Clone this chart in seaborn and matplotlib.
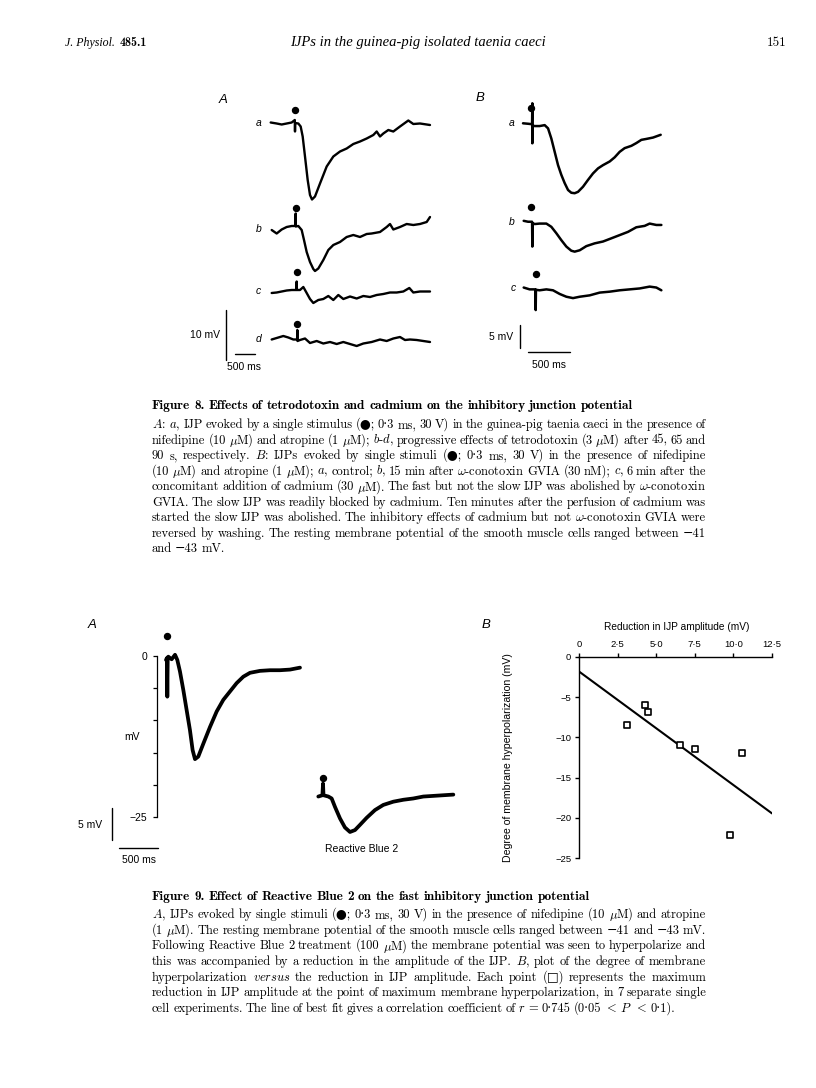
import numpy as np
import matplotlib
matplotlib.use("Agg")
import matplotlib.pyplot as plt
import seaborn as sns

# ---------------------------------------------------------------
# Dados lidos da página (tempo em ms, potencial em mV)
# ---------------------------------------------------------------

# Figura 8A: traçados a-d (mV relativo à linha de base de cada traçado)
f8a_a_t = [-8, 142, 267, 392, 517, 595, 600, 605, 683, 742, 792, 850, 917, 975, 1025, 1100, 1225, 1392,
           1558, 1725, 1892, 2058, 2225, 2392, 2558, 2642, 2725, 2808, 2933, 3058, 3225, 3433, 3558, 3725, 3975]
f8a_a_v = [0.1, -0.1, -0.3, -0.1, 0.1, 0.6, -1.7, 0.0, -0.1, -0.7, -2.7, -6.7, -11.4, -14.4, -15.3, -14.7, -12.1, -8.7,
           -6.7, -5.7, -5.1, -4.2, -3.7, -3.1, -2.4, -1.7, -2.7, -2.1, -1.4, -1.7, -0.7, 0.5, -0.2, -0.1, -0.4]
f8a_b_t = [17, 142, 267, 392, 517, 612, 617, 622, 683, 767, 825, 892, 975, 1058, 1100, 1183, 1308, 1433,
           1558, 1725, 1892, 2058, 2225, 2392, 2517, 2725, 2892, 2975, 3058, 3225, 3392, 3558, 3725, 3892, 3975]
f8a_b_v = [-0.1, -0.8, 0.0, 0.5, 0.7, 0.7, 3.2, 0.6, 0.7, -0.1, -2.1, -4.5, -6.5, -7.9, -8.3, -7.8, -6.1, -4.1,
           -3.1, -2.5, -1.5, -1.1, -1.5, -0.9, -0.8, -0.5, 0.5, 1.1, 0.0, 0.5, 1.1, 0.9, 1.1, 1.5, 2.5]
f8a_c_t = [17, 142, 267, 392, 517, 637, 642, 647, 725, 808, 892, 975, 1058, 1183, 1308, 1433, 1558, 1683,
           1808, 1975, 2142, 2308, 2475, 2642, 2808, 2975, 3142, 3308, 3458, 3558, 3725, 3975]
f8a_c_v = [-0.3, -0.2, 0.0, 0.2, 0.3, 0.3, 2.0, 0.3, 0.3, 0.9, -0.3, -1.5, -2.3, -1.7, -1.5, -0.9, -1.7, -0.7,
           -1.5, -1.0, -1.4, -0.9, -1.1, -0.7, -0.5, -0.2, -0.2, 0.0, 0.7, -0.2, 0.0, 0.0]
f8a_d_t = [17, 142, 308, 433, 558, 653, 658, 663, 725, 850, 975, 1142, 1308, 1475, 1642, 1808, 1975, 2142,
           2308, 2517, 2725, 2892, 3058, 3225, 3350, 3475, 3642, 3808, 3975]
f8a_d_v = [-0.2, 0.1, 0.5, 0.2, -0.2, -0.2, 1.7, -0.5, -0.3, 0.0, -0.9, -0.5, -1.0, -0.7, -1.1, -0.7, -1.1, -1.5,
           -1.0, -0.7, -0.2, -0.5, 0.0, 0.3, -0.3, -0.2, -0.3, -0.5, -0.7]
f8a_rotulos = ["a", "b", "c", "d"]
f8a_estimulo_t = [600, 617, 642, 658]
f8a_estimulo_v = [2.6, 4.4, 3.9, 3.0]

# Figura 8B: traçados a-c
f8b_a_t = [0, 60, 108, 111, 111, 114, 139, 198, 258, 298, 337, 377, 417, 456, 496, 536, 575, 615, 655,
           714, 774, 833, 893, 952, 1032, 1091, 1151, 1210, 1290, 1349, 1409, 1468, 1548, 1639]
f8b_a_v = [0.0, -0.1, -0.2, 4.35, -4.35, -0.5, -0.6, -0.6, -0.4, -1.1, -3.3, -6.2, -9.1, -11.2, -13.0, -14.5, -15.1,
           -15.2, -14.9, -13.8, -12.3, -10.9, -9.8, -9.1, -8.3, -7.4, -6.2, -5.4, -4.9, -4.3, -3.6, -3.4, -3.1, -2.5]
f8b_b_t = [8, 60, 108, 111, 114, 139, 198, 278, 337, 397, 456, 516, 575, 615, 675, 754, 853, 952, 1052,
           1151, 1250, 1349, 1448, 1508, 1587, 1647]
f8b_b_v = [0.2, 0.0, 0.0, -5.4, -0.3, -0.5, -0.4, -0.4, -1.1, -2.5, -4.0, -5.4, -6.3, -6.5, -6.2, -5.3, -4.7, -4.3,
           -3.6, -2.9, -2.2, -1.2, -0.9, -0.4, -0.7, -0.7]
f8b_c_t = [8, 79, 148, 151, 154, 198, 278, 357, 437, 516, 595, 675, 794, 913, 1032, 1151, 1270, 1389, 1508, 1587, 1647]
f8b_c_v = [0.2, -0.2, -0.2, -4.7, -0.3, -0.4, -0.2, -0.4, -1.2, -1.8, -2.1, -1.8, -1.5, -0.9, -0.7, -0.4, -0.2,
           0.0, 0.4, 0.2, -0.4]
f8b_rotulos = ["a", "b", "c"]
f8b_estimulo_t = [91, 91, 159]
f8b_estimulo_v = [3.3, 3.3, 3.1]

# Figura 9A: controle e após Reactive Blue 2 (mV absoluto no eixo)
f9a_ctrl_t = [0, 12, 17, 22, 30, 72, 115, 144, 178, 221, 263, 305, 339, 369, 411, 475, 560, 645, 729, 814,
              899, 984, 1069, 1196, 1323, 1450, 1578, 1705]
f9a_ctrl_v = [-0.6, -0.3, -6.3, -0.2, -0.1, -0.5, 0.2, -0.6, -2.4, -5.3, -8.4, -11.5, -14.6, -16.0, -15.6, -13.6,
              -11.0, -8.6, -6.8, -5.5, -4.2, -3.2, -2.6, -2.3, -2.2, -2.2, -2.1, -1.8]
f9a_rb2_t = [1938, 1990, 1998, 2004, 2066, 2108, 2150, 2214, 2277, 2341, 2405, 2468, 2553, 2659, 2765, 2892,
             3020, 3147, 3274, 3401, 3528, 3656]
f9a_rb2_v = [-21.8, -21.6, -19.8, -21.6, -21.8, -22.1, -23.4, -25.2, -26.6, -27.3, -27.0, -26.2, -25.1, -23.9,
             -23.1, -22.6, -22.3, -22.1, -21.8, -21.7, -21.6, -21.5]
f9a_estimulo_t = [17, 1998]
f9a_estimulo_v = [3.1, -18.9]
f9a_yticks = [0, -5, -10, -15, -20, -25]
f9a_ylabels = ["0", "", "", "", "", "\u221225"]

# Figura 9B: hiperpolarização x redução do IJP
reducao_ijp = [3.1, 4.25, 4.5, 6.55, 7.5, 10.55, 9.75]
hiperpolarizacao = [-8.5, -5.95, -6.9, -10.9, -11.5, -11.9, -22.2]
f9b_xticks = [0, 2.5, 5.0, 7.5, 10.0, 12.5]
f9b_xlabels = ["0", "2\u00b75", "5\u00b70", "7\u00b75", "10\u00b70", "12\u00b75"]
f9b_yticks = [0, -5, -10, -15, -20, -25]
f9b_ylabels = ["0", "\u22125", "\u221210", "\u221215", "\u221220", "\u221225"]

# Textos da página
cabecalho_esq = "J. Physiol."
cabecalho_vol = "485.1"
cabecalho_titulo = "IJPs in the guinea-pig isolated taenia caeci"
cabecalho_pagina = "151"

legenda8_titulo = "Figure 8. Effects of tetrodotoxin and cadmium on the inhibitory junction potential"
legenda8 = [
    r"$\mathit{A}$: $\mathit{a}$, IJP evoked by a single stimulus (●; 0·3 ms, 30 V) in the guinea-pig taenia caeci in the presence of",
    r"nifedipine (10 $\mu$M) and atropine (1 $\mu$M); $\mathit{b}$-$\mathit{d}$, progressive effects of tetrodotoxin (3 $\mu$M) after 45, 65 and",
    r"90 s, respectively. $\mathit{B}$: IJPs evoked by single stimuli (●; 0·3 ms, 30 V) in the presence of nifedipine",
    r"(10 $\mu$M) and atropine (1 $\mu$M); $\mathit{a}$, control; $\mathit{b}$, 15 min after $\omega$-conotoxin GVIA (30 nM); $\mathit{c}$, 6 min after the",
    r"concomitant addition of cadmium (30 $\mu$M). The fast but not the slow IJP was abolished by $\omega$-conotoxin",
    r"GVIA. The slow IJP was readily blocked by cadmium. Ten minutes after the perfusion of cadmium was",
    r"started the slow IJP was abolished. The inhibitory effects of cadmium but not $\omega$-conotoxin GVIA were",
    r"reversed by washing. The resting membrane potential of the smooth muscle cells ranged between −41",
    r"and −43 mV.",
]
legenda9_titulo = "Figure 9. Effect of Reactive Blue 2 on the fast inhibitory junction potential"
legenda9 = [
    r"$\mathit{A}$, IJPs evoked by single stimuli (●; 0·3 ms, 30 V) in the presence of nifedipine (10 $\mu$M) and atropine",
    r"(1 $\mu$M). The resting membrane potential of the smooth muscle cells ranged between −41 and −43 mV.",
    r"Following Reactive Blue 2 treatment (100 $\mu$M) the membrane potential was seen to hyperpolarize and",
    r"this was accompanied by a reduction in the amplitude of the IJP. $\mathit{B}$, plot of the degree of membrane",
    r"hyperpolarization $\mathit{versus}$ the reduction in IJP amplitude. Each point (□) represents the maximum",
    r"reduction in IJP amplitude at the point of maximum membrane hyperpolarization, in 7 separate single",
    r"cell experiments. The line of best fit gives a correlation coefficient of $\mathit{r}$ = 0·745 (0·05 $<$ $\mathit{P}$ $<$ 0·1).",
]

# ---------------------------------------------------------------
# Estilo geral
# ---------------------------------------------------------------
sns.set_style("ticks", {"axes.edgecolor": "black", "xtick.color": "black", "ytick.color": "black",
                        "text.color": "black", "axes.labelcolor": "black"})
plt.rcParams["font.family"] = ["Liberation Sans", "DejaVu Sans"]
plt.rcParams["mathtext.fontset"] = "cm"

SERIF = ["cmr10", "DejaVu Serif", "DejaVu Sans"]
SERIF_B = ["cmb10", "DejaVu Serif"]
TAM_LEGENDA = 9.0
TAM_TITULO = 9.6

W, H = 816, 1088
fig = plt.figure(figsize=(W / 100, H / 100), dpi=100)
renderer = fig.canvas.get_renderer()


def eixo_px(x0, y0, x1, y1):
    # cria um eixo a partir de uma caixa em pixels (origem no canto superior esquerdo)
    return fig.add_axes([x0 / W, 1 - y1 / H, (x1 - x0) / W, (y1 - y0) / H])


def linha_texto(texto, y, x0=152, x1=706, size=TAM_LEGENDA, family=SERIF, justificar=True, gap_livre=3.0):
    # escreve uma linha de legenda palavra a palavra (texto justificado)
    palavras = texto.split(" ")
    objs = [fig.text(0, 1 - y / H, p, fontsize=size, family=family, va="baseline") for p in palavras]
    larg = [o.get_window_extent(renderer).width for o in objs]
    gap_min = 2.6
    livre = x1 - x0 - sum(larg)
    if justificar and livre < gap_min * (len(palavras) - 1):
        # linha longa demais: reduz um pouco a fonte
        fator = (x1 - x0 - gap_min * (len(palavras) - 1)) / sum(larg)
        for o in objs:
            o.set_fontsize(size * fator)
        larg = [o.get_window_extent(renderer).width for o in objs]
        livre = x1 - x0 - sum(larg)
    if justificar and len(palavras) > 1:
        gap = livre / (len(palavras) - 1)
    else:
        gap = gap_livre
    x = x0
    for o, w in zip(objs, larg):
        o.set_x(x / W)
        x += w + gap


def tracado(ax, t, v, desloc, lw):
    sns.lineplot(x=t, y=np.array(v) + desloc, ax=ax, color="black", linewidth=lw,
                 estimator=None, sort=False, legend=False)


# ---------------------------------------------------------------
# Cabeçalho da página
# ---------------------------------------------------------------
t1 = fig.text(65 / W, 1 - 46 / H, cabecalho_esq, fontsize=8.6, family="Liberation Serif",
              style="italic", va="baseline")
w1 = t1.get_window_extent(renderer).width
fig.text((65 + w1 + 5) / W, 1 - 46 / H, cabecalho_vol, fontsize=8.6, family=SERIF_B, va="baseline")
fig.text(418 / W, 1 - 46 / H, cabecalho_titulo, fontsize=10.5, family="Liberation Serif",
         style="italic", ha="center", va="baseline")
fig.text(787 / W, 1 - 46 / H, cabecalho_pagina, fontsize=9.5, family=SERIF, ha="right", va="baseline")

# ---------------------------------------------------------------
# Figura 8A
# ---------------------------------------------------------------
ax = eixo_px(180, 95, 440, 380)
desloc8a = [0, -21.3, -33.7, -43.1]
series8a = [(f8a_a_t, f8a_a_v), (f8a_b_t, f8a_b_v), (f8a_c_t, f8a_c_v), (f8a_d_t, f8a_d_v)]
for (t, v), d, rot, et, ev in zip(series8a, desloc8a, f8a_rotulos, f8a_estimulo_t, f8a_estimulo_v):
    tracado(ax, t, v, d, 1.7)
    ax.plot(et, ev + d, "o", color="black", ms=4.3)
    ax.text(-317, d, rot, fontsize=7.5, style="italic", ha="center", va="center")
# barras de escala 10 mV / 500 ms
ax.plot([-1133, -1133], [-37.4, -37.4 - 10], color="black", lw=1.0)
ax.plot([-900, -900 + 500], [-46.2, -46.2], color="black", lw=1.0)
ax.text(-1275, -42.4, "10 mV", fontsize=7.5, ha="right", va="center")
ax.text(-675, -48.9, "500 ms", fontsize=7.5, ha="center", va="center")
ax.set_xlim(-2275, 4225)
ax.set_ylim(-51.4, 5.6)
ax.axis("off")

# ---------------------------------------------------------------
# Figura 8B
# ---------------------------------------------------------------
ax = eixo_px(490, 95, 690, 380)
desloc8b = [0, -21.4, -35.9]
series8b = [(f8b_a_t, f8b_a_v), (f8b_b_t, f8b_b_v), (f8b_c_t, f8b_c_v)]
rot_t8b = [-131, -131, -119]
for (t, v), d, rot, et, ev, rt in zip(series8b, desloc8b, f8b_rotulos, f8b_estimulo_t, f8b_estimulo_v, rot_t8b):
    tracado(ax, t, v, d, 1.8)
    ax.plot(et, ev + d, "o", color="black", ms=4.3)
    ax.text(rt, d, rot, fontsize=7.5, style="italic", ha="center", va="center")
ax.plot([-32, -32], [-43.8, -43.8 - 5], color="black", lw=1.0)
ax.plot([60, 60 + 500], [-49.8, -49.8], color="black", lw=1.0)
ax.text(-119, -46.4, "5 mV", fontsize=7.5, ha="right", va="center")
ax.text(306, -52.6, "500 ms", fontsize=7.5, ha="center", va="center")
ax.set_xlim(-393, 1988)
ax.set_ylim(-55.8, 6.15)
ax.axis("off")

fig.text(223 / W, 1 - 100 / H, "A", fontsize=9.5, style="italic", ha="center", va="center")
fig.text(480 / W, 1 - 98 / H, "B", fontsize=9.5, style="italic", ha="center", va="center")

# Legenda da figura 8
linha_texto(legenda8_titulo, 409, size=TAM_TITULO, family=SERIF_B, justificar=False, gap_livre=4.0)
for i, linha in enumerate(legenda8):
    linha_texto(linha, 428 + i * 15.55, justificar=(i < len(legenda8) - 1))

# ---------------------------------------------------------------
# Figura 9A
# ---------------------------------------------------------------
ax = eixo_px(80, 615, 470, 870)
tracado(ax, f9a_ctrl_t, f9a_ctrl_v, 0, 2.7)
tracado(ax, f9a_rb2_t, f9a_rb2_v, 0, 2.7)
ax.plot(f9a_estimulo_t, f9a_estimulo_v, "o", color="black", ms=4.3)
ax.plot([-687, -687], [-23.6, -23.6 - 5], color="black", lw=1.0, clip_on=False)
ax.plot([-598, -598 + 500], [-29.8, -29.8], color="black", lw=1.0, clip_on=False)
ax.text(-818, -26.2, "5 mV", fontsize=7.5, ha="right", va="center")
ax.text(-343, -31.6, "500 ms", fontsize=7.5, ha="center", va="center")
ax.text(-433, -12.6, "mV", fontsize=7.5, ha="center", va="center")
ax.text(2490, -29.9, "Reactive Blue 2", fontsize=7.5, ha="center", va="center")
ax.set_xlim(-1094, 3868)
ax.set_ylim(-33.2, 6.37)
for s in ["top", "right", "bottom"]:
    ax.spines[s].set_visible(False)
ax.spines["left"].set_position(("data", -114.5))
ax.spines["left"].set_bounds(-25, 0)
ax.spines["left"].set_linewidth(0.9)
ax.set_xticks([])
ax.set_yticks(f9a_yticks)
ax.set_yticklabels(f9a_ylabels)
ax.tick_params(axis="y", direction="out", length=3, width=0.9, labelsize=7.5, pad=4)

fig.text(92 / W, 1 - 625 / H, "A", fontsize=9.5, style="italic", ha="center", va="center")

# ---------------------------------------------------------------
# Figura 9B
# ---------------------------------------------------------------
ax = eixo_px(579, 657, 772, 858)
ax.set_xlim(0, 12.5)
ax.set_ylim(-25, 0)
sns.regplot(x=reducao_ijp, y=hiperpolarizacao, ax=ax, scatter=False, ci=None, truncate=False,
            color="black", line_kws={"lw": 1.5})
sns.scatterplot(x=reducao_ijp, y=hiperpolarizacao, ax=ax, marker="s", s=24, color="white",
                edgecolor="black", linewidth=1.2, zorder=3, legend=False)
ax.set_xlim(0, 12.5)
ax.set_ylim(-25, 0)
for s in ["right", "bottom"]:
    ax.spines[s].set_visible(False)
for s in ["top", "left"]:
    ax.spines[s].set_linewidth(1.0)
ax.xaxis.tick_top()
ax.xaxis.set_label_position("top")
ax.set_xticks(f9b_xticks)
ax.set_xticklabels(f9b_xlabels)
ax.set_yticks(f9b_yticks)
ax.set_yticklabels(f9b_ylabels)
ax.tick_params(direction="out", length=3, width=1.0, labelsize=6.8, pad=2.5)
ax.set_xlabel("Reduction in IJP amplitude (mV)", fontsize=7.3)
ax.xaxis.set_label_coords(0.508, 1.149)
ax.xaxis.label.set_va("center")
ax.set_ylabel("Degree of membrane hyperpolarization (mV)", fontsize=7.6)
ax.yaxis.set_label_coords(-0.368, 0.5)
ax.yaxis.label.set_va("center")

fig.text(486 / W, 1 - 625 / H, "B", fontsize=9.5, style="italic", ha="center", va="center")

# Legenda da figura 9
linha_texto(legenda9_titulo, 900, size=TAM_TITULO, family=SERIF_B, justificar=False, gap_livre=4.0)
for i, linha in enumerate(legenda9):
    linha_texto(linha, 918 + i * 15.67, justificar=(i < len(legenda9) - 1))

fig.savefig("out.png", dpi=100)
